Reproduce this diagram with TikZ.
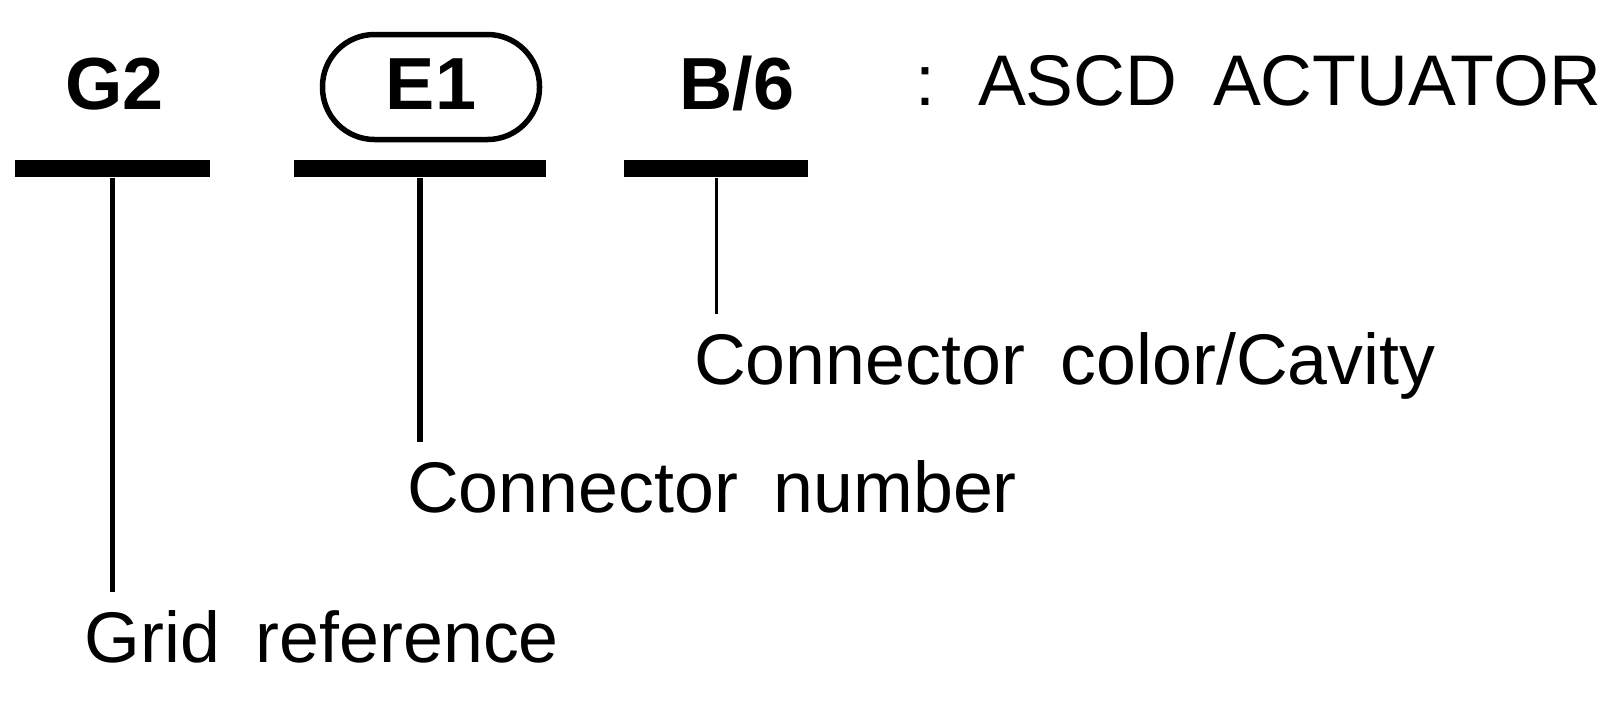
\documentclass[tikz,border=0pt]{standalone}
\usepackage{fontspec}
\setmainfont{Liberation Sans}[WordSpace=1.8]
\begin{document}
\begin{tikzpicture}[
    code/.style={font=\fontsize{21}{25}\selectfont\bfseries, inner sep=0pt, anchor=base},
    legende/.style={font=\fontsize{20.4}{24}\selectfont, inner sep=0.17cm, anchor=base west},
    barre/.style={fill, inner sep=0pt, minimum height=0.17cm},
    trait/.style={line width=0.055cm}
]
    \useasboundingbox (0,0) rectangle (16,7);

    % Codes du connecteur
    \node[code] (G2) at (1.145,5.91) {G2};
    \node[code, draw, line width=0.055cm, rounded corners=0.52cm, minimum width=2.17cm,
          text height=0.745cm, text depth=0.305cm] (E1) at (4.31,5.91) {E1};
    \node[code] (B6) at (7.37,5.91) {B/6};
    \node[legende] (titre) at (8.98,5.95) {: ASCD ACTUATOR};

    % Barres sous les codes
    \node[barre, minimum width=1.95cm] (barreG2) at (1.125,5.315) {};
    \node[barre, minimum width=2.52cm] (barreE1) at (4.20,5.315) {};
    \node[barre, minimum width=1.84cm] (barreB6) at (7.16,5.315) {};

    % Légendes
    \node[legende] (grille) at (0.67,0.38) {Grid reference};
    \node[legende] (numero) at (3.895,1.88) {Connector number};
    \node[legende] (couleur) at (6.765,3.16) {Connector color/Cavity};

    % Traits de rappel
    \draw[trait] (barreG2.south) -- (barreG2.south |- grille.north);
    \draw[trait] (barreE1.south) -- (barreE1.south |- numero.north);
    \draw[trait, line width=0.03cm] (barreB6.south) -- (barreB6.south |- couleur.north);

\end{tikzpicture}
\end{document}
